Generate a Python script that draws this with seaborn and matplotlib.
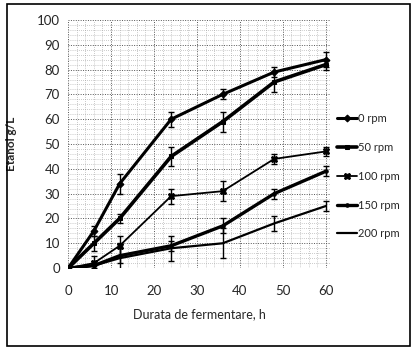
import matplotlib
matplotlib.use("Agg")
import matplotlib.pyplot as plt
import seaborn as sns
import pandas as pd
import numpy as np

hours = [0, 6, 12, 24, 36, 48, 60]
series_names = ["0 rpm", "50 rpm", "100 rpm", "150 rpm", "200 rpm"]
ethanol = {
    "0 rpm":   [0, 15, 34, 60, 70, 79, 84],
    "50 rpm":  [0, 10, 20, 45, 59, 75, 82],
    "100 rpm": [0, 2, 9, 29, 31, 44, 47],
    "150 rpm": [0, 1, 5, 9, 17, 30, 39],
    "200 rpm": [0, 1, 4, 8, 10, 18, 25],
}
errors = {
    "0 rpm":   [0, 2, 4, 3, 2, 2, 3],
    "50 rpm":  [0, 3, 2, 4, 4, 4, 2],
    "100 rpm": [0, 3, 4, 3, 4, 2, 2],
    "150 rpm": [0, 1, 3, 2, 3, 2, 2],
    "200 rpm": [0, 2, 6, 5, 6, 3, 2],
}
x_ticks = [0, 10, 20, 30, 40, 50, 60]
y_ticks = list(range(0, 101, 10))

styles = {
    "0 rpm":   dict(marker="D", markersize=3.5, linewidth=2.2),
    "50 rpm":  dict(marker="s", markersize=3.5, linewidth=2.6),
    "100 rpm": dict(marker="X", markersize=5, linewidth=1.3),
    "150 rpm": dict(marker="o", markersize=2.5, linewidth=2.4),
    "200 rpm": dict(marker="", markersize=0, linewidth=1.6),
}

sns.set_style("white")
plt.rcParams["font.family"] = ["Lato", "DejaVu Sans"]

rows = []
for name in series_names:
    for h, v in zip(hours, ethanol[name]):
        rows.append({"h": h, "v": v, "series": name})
df = pd.DataFrame(rows)

fig = plt.figure(figsize=(4.13, 3.5), dpi=100)
ax = fig.add_axes([0.165, 0.234, 0.634, 0.709])

for name in series_names:
    st = styles[name]
    sub = df[df["series"] == name]
    sns.lineplot(data=sub, x="h", y="v", ax=ax, color="black",
                 linewidth=st["linewidth"], marker=st["marker"] or None,
                 markersize=st["markersize"], markeredgecolor="black",
                 label=name, legend=False)
    ax.errorbar(hours, ethanol[name], yerr=errors[name], fmt="none",
                ecolor="black", elinewidth=1.0, capsize=2.5, capthick=1.0)

ax.set_xlim(0, 61)
ax.set_ylim(0, 100)
ax.set_xticks(x_ticks)
ax.set_yticks(y_ticks)
ax.set_xticks(np.arange(0, 61, 2), minor=True)
ax.set_yticks(np.arange(0, 101, 2), minor=True)
ax.grid(which="major", color="#555555", linestyle=(0, (1, 1.5)), linewidth=0.7)
ax.grid(which="minor", color="#999999", linestyle=(0, (1, 2)), linewidth=0.5)
for s in ax.spines.values():
    s.set_visible(False)
ax.tick_params(axis="both", which="both", length=0, labelsize=9.5)
ax.tick_params(axis="x", pad=12)
ax.tick_params(axis="y", pad=6)

ax.set_xlabel("Durata de fermentare, h", fontsize=9, labelpad=8)
ax.set_ylabel("Etanol g/L", fontsize=8.5, fontweight="bold", labelpad=14)

ax.legend(loc="center left", bbox_to_anchor=(1.025, 0.37), frameon=False,
          fontsize=8, handlelength=1.8, labelspacing=1.6, handletextpad=0.1,
          borderpad=0, borderaxespad=0)

border = plt.Rectangle((0.017, 0.012), 0.975, 0.978, transform=fig.transFigure,
                       fill=False, edgecolor="black", linewidth=1.2)
fig.patches.append(border)

fig.savefig("out.png", dpi=100)
